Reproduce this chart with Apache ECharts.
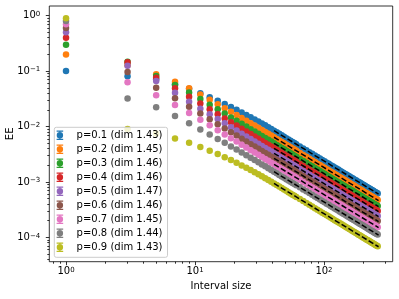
<!DOCTYPE html>
<html><head><meta charset="utf-8">
<script src="https://cdn.jsdelivr.net/npm/echarts@6/dist/echarts.min.js"></script>
<style>html,body{margin:0;padding:0;background:#fff}#c{width:399px;height:299px}</style>
</head><body><div id="c"></div>
<script>
// ---------------- data ----------------
const intervalSize = [1,3,5,7,9,11,13,15,17,19,21,23,25,27,29,31,33,35,37,39,41,43,45,47,49,51,53,55,57,59,61,
65,69,73,77,81,85,89,93,97,101,105,109,113,117,121,125,129,133,137,141,145,149,153,157,161,165,169,173,177,181,
185,189,193,197,201,205,209,213,217,221,225,229,233,237,241,245,249,253,257,261];

const seriesNames = ['p=0.1 (dim 1.43)','p=0.2 (dim 1.45)','p=0.3 (dim 1.46)','p=0.4 (dim 1.46)','p=0.5 (dim 1.47)',
'p=0.6 (dim 1.46)','p=0.7 (dim 1.45)','p=0.8 (dim 1.44)','p=0.9 (dim 1.43)'];

const eeP1 = [0.1,0.081,0.0716,0.058,0.0479,0.0398,0.0338,0.0291,0.0254,0.0224,0.02,0.0179,0.0162,0.0147,0.0134,0.0123,0.0113,0.0105,0.00969,0.00901,0.0084,
0.00785,0.00737,0.00693,0.00654,0.00617,0.00585,0.00555,0.00528,0.00503,0.0048,
0.00438,0.00403,0.00372,0.00345,0.00322,0.00301,0.00281,0.00265,0.00249,0.00236,
0.00223,0.00212,0.00201,0.00191,0.00183,0.00174,0.00167,0.0016,0.00153,0.00147,
0.00141,0.00136,0.00131,0.00127,0.00122,0.00118,0.00114,0.0011,0.00107,0.00103,
0.001,9.74e-4,9.45e-4,9.18e-4,8.93e-4,8.69e-4,8.45e-4,8.22e-4,8.01e-4,7.81e-4,
7.62e-4,7.43e-4,7.25e-4,7.08e-4,6.91e-4,6.75e-4,6.6e-4,6.46e-4,6.32e-4,6.18e-4];

const eeP2 = [0.2,0.128,0.0875,0.0644,0.049,0.0379,0.0305,0.0253,0.0214,0.0184,0.0161,0.0143,0.0127,0.0114,0.0104,0.00946,0.00867,0.008,0.0074,0.00687,0.0064,
0.00598,0.00561,0.00528,0.00498,0.0047,0.00445,0.00423,0.00402,0.00383,0.00365,
0.00334,0.00307,0.00284,0.00263,0.00245,0.00229,0.00214,0.00202,0.0019,0.0018,
0.0017,0.00161,0.00153,0.00146,0.00139,0.00133,0.00127,0.00122,0.00117,0.00112,
0.00108,0.00104,0.001,9.64e-4,9.31e-4,8.99e-4,8.69e-4,8.41e-4,8.14e-4,7.88e-4,
7.65e-4,7.42e-4,7.2e-4,7.0e-4,6.8e-4,6.62e-4,6.44e-4,6.27e-4,6.11e-4,5.95e-4,
5.8e-4,5.66e-4,5.52e-4,5.4e-4,5.27e-4,5.15e-4,5.03e-4,4.92e-4,4.81e-4,4.71e-4];

const eeP3 = [0.3,0.147,0.0815,0.056,0.0413,0.0313,0.0248,0.0204,0.0171,0.0146,0.0127,0.0112,0.00998,0.00897,0.00812,0.00739,0.00676,0.00623,0.00576,0.00534,0.00498,
0.00466,0.00437,0.00411,0.00387,0.00366,0.00347,0.00329,0.00313,0.00298,0.00284,
0.0026,0.00239,0.00221,0.00205,0.00191,0.00178,0.00167,0.00157,0.00148,0.0014,
0.00132,0.00125,0.00119,0.00113,0.00108,0.00103,9.9e-4,9.48e-4,9.09e-4,8.73e-4,
8.39e-4,8.07e-4,7.78e-4,7.5e-4,7.24e-4,6.99e-4,6.76e-4,6.54e-4,6.33e-4,6.14e-4,
5.95e-4,5.77e-4,5.6e-4,5.44e-4,5.29e-4,5.15e-4,5.01e-4,4.88e-4,4.75e-4,4.63e-4,
4.52e-4,4.41e-4,4.3e-4,4.2e-4,4.1e-4,4.0e-4,3.91e-4,3.83e-4,3.74e-4,3.67e-4];

const eeP4 = [0.4,0.144,0.076,0.0489,0.0344,0.0259,0.0205,0.0167,0.014,0.012,0.0104,0.00916,0.00814,0.0073,0.0066,0.00601,0.0055,0.00506,0.00468,0.00435,0.00405,
0.00379,0.00355,0.00334,0.00315,0.00298,0.00282,0.00268,0.00254,0.00243,0.00231,
0.00211,0.00194,0.00179,0.00166,0.00155,0.00145,0.00136,0.00128,0.0012,0.00114,
0.00108,0.00102,9.7e-4,9.23e-4,8.8e-4,8.41e-4,8.05e-4,7.71e-4,7.4e-4,7.1e-4,
6.82e-4,6.57e-4,6.33e-4,6.1e-4,5.89e-4,5.69e-4,5.5e-4,5.32e-4,5.15e-4,4.99e-4,
4.84e-4,4.69e-4,4.56e-4,4.43e-4,4.31e-4,4.19e-4,4.07e-4,3.96e-4,3.86e-4,3.77e-4,
3.67e-4,3.58e-4,3.5e-4,3.41e-4,3.33e-4,3.26e-4,3.18e-4,3.11e-4,3.05e-4,2.98e-4];

const eeP5 = [0.5,0.125,0.066,0.0407,0.0279,0.021,0.0166,0.0136,0.0114,0.00973,0.00845,0.00744,0.00661,0.00593,0.00536,0.00488,0.00447,0.00411,0.0038,0.00353,0.00329,
0.00308,0.00289,0.00271,0.00256,0.00242,0.00229,0.00217,0.00207,0.00197,0.00188,
0.00172,0.00158,0.00146,0.00135,0.00126,0.00118,0.0011,0.00104,9.77e-4,9.24e-4,
8.74e-4,8.29e-4,7.88e-4,7.5e-4,7.15e-4,6.83e-4,6.54e-4,6.26e-4,6.01e-4,5.77e-4,
5.54e-4,5.33e-4,5.14e-4,4.95e-4,4.78e-4,4.62e-4,4.47e-4,4.32e-4,4.18e-4,4.05e-4,
3.93e-4,3.81e-4,3.7e-4,3.6e-4,3.5e-4,3.4e-4,3.31e-4,3.22e-4,3.14e-4,3.06e-4,
2.98e-4,2.91e-4,2.84e-4,2.77e-4,2.71e-4,2.65e-4,2.59e-4,2.53e-4,2.47e-4,2.42e-4];

const eeP6 = [0.6,0.096,0.05,0.0323,0.0227,0.0171,0.0135,0.011,0.00924,0.0079,0.00686,0.00604,0.00536,0.00481,0.00435,0.00396,0.00363,0.00334,0.00309,0.00286,0.00267,
0.0025,0.00234,0.0022,0.00208,0.00196,0.00186,0.00176,0.00168,0.0016,0.00152,
0.00139,0.00128,0.00118,0.0011,0.00102,9.56e-4,8.94e-4,8.41e-4,7.93e-4,7.5e-4,
7.09e-4,6.73e-4,6.39e-4,6.08e-4,5.8e-4,5.55e-4,5.31e-4,5.08e-4,4.88e-4,4.68e-4,
4.5e-4,4.33e-4,4.17e-4,4.02e-4,3.88e-4,3.75e-4,3.63e-4,3.51e-4,3.4e-4,3.29e-4,
3.19e-4,3.09e-4,3.0e-4,2.92e-4,2.84e-4,2.76e-4,2.69e-4,2.61e-4,2.55e-4,2.48e-4,
2.42e-4,2.36e-4,2.3e-4,2.25e-4,2.2e-4,2.15e-4,2.1e-4,2.05e-4,2.01e-4,1.97e-4];

const eeP7 = [0.7,0.063,0.0366,0.0245,0.0176,0.0133,0.0105,0.00859,0.0072,0.00615,0.00534,0.0047,0.00418,0.00375,0.00339,0.00308,0.00282,0.0026,0.0024,0.00223,0.00208,
0.00194,0.00182,0.00172,0.00162,0.00153,0.00145,0.00137,0.00131,0.00125,0.00119,
0.00109,9.98e-4,9.21e-4,8.55e-4,7.97e-4,7.45e-4,6.97e-4,6.55e-4,6.18e-4,5.84e-4,
5.52e-4,5.24e-4,4.98e-4,4.74e-4,4.52e-4,4.32e-4,4.13e-4,3.96e-4,3.8e-4,3.65e-4,
3.5e-4,3.37e-4,3.25e-4,3.13e-4,3.02e-4,2.92e-4,2.82e-4,2.73e-4,2.65e-4,2.56e-4,
2.49e-4,2.41e-4,2.34e-4,2.27e-4,2.21e-4,2.15e-4,2.09e-4,2.04e-4,1.98e-4,1.93e-4,
1.89e-4,1.84e-4,1.8e-4,1.75e-4,1.71e-4,1.67e-4,1.63e-4,1.6e-4,1.56e-4,1.53e-4];

const eeP8 = [0.8,0.032,0.0222,0.0155,0.0114,0.00888,0.00718,0.00597,0.00507,0.00438,0.00383,0.0034,0.00303,0.00273,0.00248,0.00226,0.00207,0.00191,0.00177,0.00164,0.00153,
0.00143,0.00134,0.00126,0.00119,0.00112,0.00106,0.00101,9.61e-4,9.16e-4,8.74e-4,
7.99e-4,7.34e-4,6.78e-4,6.29e-4,5.86e-4,5.48e-4,5.13e-4,4.82e-4,4.54e-4,4.3e-4,
4.06e-4,3.86e-4,3.66e-4,3.49e-4,3.33e-4,3.18e-4,3.04e-4,2.91e-4,2.79e-4,2.68e-4,
2.58e-4,2.48e-4,2.39e-4,2.3e-4,2.22e-4,2.15e-4,2.08e-4,2.01e-4,1.95e-4,1.88e-4,
1.83e-4,1.77e-4,1.72e-4,1.67e-4,1.63e-4,1.58e-4,1.54e-4,1.5e-4,1.46e-4,1.42e-4,
1.39e-4,1.35e-4,1.32e-4,1.29e-4,1.26e-4,1.23e-4,1.2e-4,1.18e-4,1.15e-4,1.13e-4];

const eeP9 = [0.9,0.009,0.0075,0.0061,0.00508,0.00428,0.00367,0.00318,0.0028,0.00248,0.00221,0.00199,0.0018,0.00164,0.0015,0.00137,0.00127,0.00117,0.00108,0.00101,9.4e-4,
8.79e-4,8.24e-4,7.76e-4,7.31e-4,6.91e-4,6.54e-4,6.21e-4,5.9e-4,5.63e-4,5.37e-4,
4.91e-4,4.51e-4,4.16e-4,3.86e-4,3.6e-4,3.37e-4,3.15e-4,2.96e-4,2.79e-4,2.64e-4,
2.5e-4,2.37e-4,2.25e-4,2.14e-4,2.04e-4,1.95e-4,1.87e-4,1.79e-4,1.72e-4,1.65e-4,
1.58e-4,1.52e-4,1.47e-4,1.42e-4,1.37e-4,1.32e-4,1.28e-4,1.24e-4,1.2e-4,1.16e-4,
1.12e-4,1.09e-4,1.06e-4,1.03e-4,9.99e-5,9.72e-5,9.46e-5,9.2e-5,8.97e-5,8.74e-5,
8.53e-5,8.32e-5,8.11e-5,7.92e-5,7.74e-5,7.56e-5,7.39e-5,7.23e-5,7.07e-5,6.92e-5];

// dashed power-law fits (start and end of each fitted segment)
const fitX = [41, 265];
const fitP1 = [8.4e-3, 6.05e-4];
const fitP2 = [6.4e-3, 4.61e-4];
const fitP3 = [4.98e-3, 3.59e-4];
const fitP4 = [4.05e-3, 2.92e-4];
const fitP5 = [3.29e-3, 2.37e-4];
const fitP6 = [2.67e-3, 1.92e-4];
const fitP7 = [2.08e-3, 1.5e-4];
const fitP8 = [1.53e-3, 1.1e-4];
const fitP9 = [9.4e-4, 6.77e-5];

// axis ticks
const xMajorTicks = [1, 10, 100];
const xMinorTicks = [0.8,0.9,2,3,4,5,6,7,8,9,20,30,40,50,60,70,80,90,200,300];
const yMajorTicks = [1e-4, 1e-3, 1e-2, 1e-1, 1];
const yMinorTicks = [4e-5,5e-5,6e-5,7e-5,8e-5,9e-5,
 2e-4,3e-4,4e-4,5e-4,6e-4,7e-4,8e-4,9e-4,
 2e-3,3e-3,4e-3,5e-3,6e-3,7e-3,8e-3,9e-3,
 0.02,0.03,0.04,0.05,0.06,0.07,0.08,0.09,
 0.2,0.3,0.4,0.5,0.6,0.7,0.8,0.9];

// ---------------- styles / build ----------------
const eeAll = [eeP1,eeP2,eeP3,eeP4,eeP5,eeP6,eeP7,eeP8,eeP9];
const fitAll = [fitP1,fitP2,fitP3,fitP4,fitP5,fitP6,fitP7,fitP8,fitP9];
const colors = ['#1f77b4','#ff7f0e','#2ca02c','#d62728','#9467bd','#8c564b','#e377c2','#7f7f7f','#bcbd22'];
const FONT = 'DejaVu Sans';
const rich = {
  b: {fontSize: 10, fontFamily: FONT, color: '#000', lineHeight: 10},
  s: {fontSize: 7, fontFamily: FONT, color: '#000', lineHeight: 5.4, verticalAlign: 'top'}
};
function powLabel(v) {
  const e = Math.round(Math.log10(v));
  return '{b|10}{s|' + (e < 0 ? '\u2212' + (-e) : String(e)) + '}';
}
const XMIN = 0.742, XMAX = 341, YMIN = 3.64e-5, YMAX = 1.494;
const tickLine = {color: '#000', width: 0.8};

const series = [];
eeAll.forEach((arr, k) => {
  series.push({
    type: 'scatter', name: seriesNames[k], xAxisIndex: 0, yAxisIndex: 0,
    data: intervalSize.map((x, i) => [x, arr[i]]),
    symbol: 'circle', symbolSize: 6.5,
    itemStyle: {color: colors[k], opacity: 1},
    z: 2, silent: true
  });
});
fitAll.forEach((arr, k) => {
  series.push({
    type: 'line', name: 'fit' + k, xAxisIndex: 0, yAxisIndex: 0,
    data: fitX.map((x, i) => [x, arr[i]]),
    symbol: 'none', lineStyle: {color: '#000', width: 1.5, type: [5.5, 2.4]},
    z: 3, silent: true
  });
});

const option = {
  animation: false,
  backgroundColor: '#fff',
  grid: {left: 49.3, right: 6.3, top: 6, bottom: 37.3, show: true, borderColor: '#000', borderWidth: 0.8,
         outerBoundsMode: 'none', containLabel: false},
  xAxis: [
    {type: 'log', logBase: 10, min: XMIN, max: XMAX, position: 'bottom', gridIndex: 0,
     axisLine: {show: false}, splitLine: {show: false}, minorTick: {show: false},
     axisTick: {show: true, customValues: xMajorTicks, length: 3.5, lineStyle: tickLine},
     axisLabel: {customValues: xMajorTicks, formatter: powLabel, rich: rich, margin: 4.6},
     name: 'Interval size', nameLocation: 'middle', nameGap: 20, nameMoveOverlap: false,
     nameTextStyle: {fontSize: 10, fontFamily: FONT, color: '#000'}},
    {type: 'log', logBase: 10, min: XMIN, max: XMAX, position: 'bottom', gridIndex: 0,
     axisLine: {show: false}, splitLine: {show: false}, axisLabel: {show: false},
     axisTick: {show: true, customValues: xMinorTicks, length: 2, lineStyle: tickLine}}
  ],
  yAxis: [
    {type: 'log', logBase: 10, min: YMIN, max: YMAX, position: 'left', gridIndex: 0,
     axisLine: {show: false}, splitLine: {show: false}, minorTick: {show: false},
     axisTick: {show: true, customValues: yMajorTicks, length: 3.5, lineStyle: tickLine},
     axisLabel: {customValues: yMajorTicks, formatter: powLabel, rich: rich, margin: 9},
     name: 'EE', nameLocation: 'middle', nameGap: 34, nameRotate: 90, nameMoveOverlap: false,
     nameTextStyle: {fontSize: 10, fontFamily: FONT, color: '#000'}},
    {type: 'log', logBase: 10, min: YMIN, max: YMAX, position: 'left', gridIndex: 0,
     axisLine: {show: false}, splitLine: {show: false}, axisLabel: {show: false},
     axisTick: {show: true, customValues: yMinorTicks, length: 2, lineStyle: tickLine}}
  ],
  legend: {
    orient: 'vertical', left: 54.3, top: 127.3,
    itemWidth: 23.4, itemHeight: 9.4, itemGap: 4,
    padding: [3, 5, 5, 2.3],
    backgroundColor: 'rgba(255,255,255,0.8)', borderColor: '#cccccc', borderWidth: 1, borderRadius: 2,
    icon: 'path://M0,0H6.6V1.2H0Z M0,8.2H6.6V9.4H0Z M2.7,0H3.9V9.4H2.7Z M0.1,4.7A3.2,3.2 0 1,1 6.5,4.7A3.2,3.2 0 1,1 0.1,4.7Z',
    textStyle: {fontSize: 10, fontFamily: FONT, color: '#000', lineHeight: 10},
    data: seriesNames, selectedMode: false, z: 10
  },
  series: series
};
const chart = echarts.init(document.getElementById('c'), null, {renderer: 'canvas', width: 399, height: 299});
chart.setOption(option);
</script></body></html>
